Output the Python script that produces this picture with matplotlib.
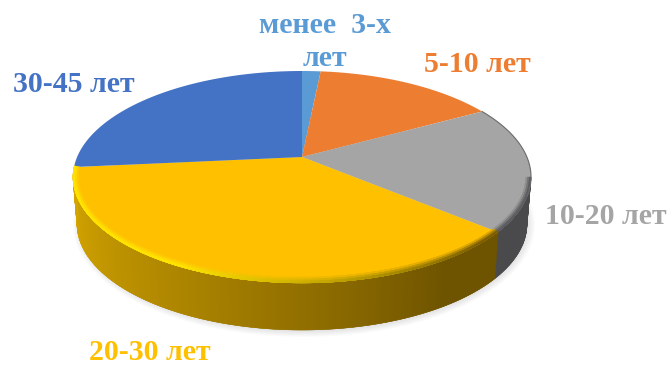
import numpy as np
import matplotlib
matplotlib.use('Agg')
from matplotlib import pyplot as plt
from matplotlib.colors import to_rgb

labels = ['менее  3-х\nлет', '5-10 лет', '10-20 лет', '20-30 лет', '30-45 лет']
values = [1.3, 13.1, 19.3, 42.8, 23.5]
colors = ['#5B9BD5', '#ED7D31', '#A5A5A5', '#FFC000', '#4472C4']
label_x = [325, 477, 606, 150, 74]
label_y = [42, 65, 217, 352, 85]

# pie geometry in image pixels
cx, cy = 302, 177
rx, ry = 229, 106
apex_y = 157
depth = 47
rx_low = 225

plt.rcParams['font.family'] = ['Liberation Serif', 'DejaVu Serif']

fig = plt.figure(figsize=(6.7, 3.67), dpi=100)
ax = fig.add_axes([0, 0, 1, 1])
ax.set_xlim(0, 670)
ax.set_ylim(367, 0)
ax.axis('off')


def arc(t, a=rx, b=ry, y0=cy):
    # t in degrees, clockwise from 12 o'clock
    r = np.radians(t)
    return cx + a * np.sin(r), y0 - b * np.cos(r)


def mix(c, other, k):
    c, other = np.array(to_rgb(c)), np.array(to_rgb(other))
    return tuple(c * (1 - k) + other * k)


edges = np.concatenate([[0], np.cumsum(values)]) * 360 / np.sum(values)

# soft shadow under the disc
for i in range(10):
    t = np.linspace(0, 360, 200)
    x, y = arc(t, rx_low + 6 - i * 1.2, ry + 6 - i * 1.0, cy + depth + 1)
    ax.fill(x + 2, y, color='#808080', alpha=0.03, lw=0, zorder=1)

# side wall, cut in thin strips so the shade can change along it
for t0 in np.arange(90, 275, 1.0):
    ts = np.linspace(t0, t0 + 2, 4)
    mid = t0 + 0.5
    i = np.searchsorted(edges, mid) - 1
    x1, y1 = arc(ts)
    x2, y2 = arc(ts[::-1], rx_low, ry, cy + depth)
    if colors[i] == '#FFC000':
        k = np.clip((275 - mid) / 135, 0, 1)
        shade = mix('#D6A600', '#6E5300', k ** 1.2)
    else:
        shade = '#4A4A4C'
    ax.fill(np.r_[x1, x2], np.r_[y1, y2], fc=shade, ec=shade, lw=0.3, zorder=2)

# top face, from the apex out to the rim
for i in range(len(values)):
    t = np.linspace(edges[i], edges[i + 1], 120)
    x, y = arc(t)
    ax.fill(np.r_[cx, x], np.r_[apex_y, y], color=colors[i], lw=0, zorder=3)

# bevel on the rim of the disc, widest band first
for w, a in [(6, 0.25), (4, 0.6), (2, 0.9)]:
    for t0 in np.arange(90, 275, 1.0):
        ts = np.linspace(t0, t0 + 2, 4)
        i = np.searchsorted(edges, t0 + 0.5) - 1
        k = np.clip((t0 - 90) / 185, 0, 1)
        if colors[i] == '#FFC000':
            tone = mix('#6E5300', '#FFE800', np.clip(k * 2.2 - 0.45, 0, 1))
        else:
            tone = '#55555A'
        tone = mix(colors[i], tone, a)
        x1, y1 = arc(ts)
        x2, y2 = arc(ts[::-1], rx - w * 0.9, ry - w)
        ax.fill(np.r_[x1, x2], np.r_[y1, y2], fc=tone, ec=tone, lw=0.2, zorder=4)

# dark thin edge on the upper right rim of the grey part
t = np.linspace(edges[2], 100, 60)
ax.plot(*arc(t), color='#6A6A6A', lw=0.8, zorder=5)

for name, c, lx, ly in zip(labels, colors, label_x, label_y):
    ax.text(lx, ly, name, color=c, fontsize=21.5, fontweight='bold', ha='center',
            va='center', linespacing=1.3, zorder=6)

fig.savefig('out.png', dpi=100)
